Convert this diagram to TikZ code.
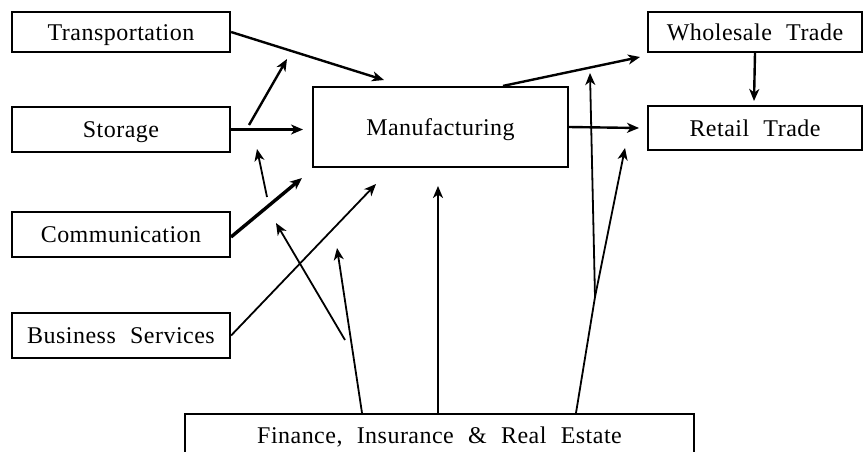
\documentclass[tikz,border=0pt]{standalone}
\usepackage{fontspec}
\setmainfont{Liberation Serif}[LetterSpace=2,WordSpace=2.2]
\usetikzlibrary{arrows.meta}

\tikzset{
	sector/.style={draw, line width=2.2pt, inner sep=0pt, text height=16pt, text depth=0pt,
		font=\fontsize{24}{26}\selectfont},
	flow/.style={-{Stealth[length=12pt,width=10pt,inset=3.5pt]}, line width=2.4pt},
	thinflow/.style={flow, line width=1.8pt},
}

\begin{document}
\begin{tikzpicture}[x=1pt,y=-1pt]
		\useasboundingbox (0,0) rectangle (866,451);
		%
		\node [sector, minimum width=218pt, minimum height=40pt] (trans) at (121,32) {Transportation};
		\node [sector, minimum width=218pt, minimum height=45pt] (stor) at (121,129.5) {Storage};
		\node [sector, minimum width=218pt, minimum height=45pt] (comm) at (121,234.5) {Communication};
		\node [sector, minimum width=218pt, minimum height=45pt] (bus) at (121,335.5) {Business Services};
		\node [sector, minimum width=255pt, minimum height=80pt] (manu) at (440.5,127) {Manufacturing};
		\node [sector, minimum width=214pt, minimum height=40pt] (whole) at (755,32) {Wholesale Trade};
		\node [sector, minimum width=214pt, minimum height=44pt] (retail) at (755,128) {Retail Trade};
		\node [sector, minimum width=509pt, minimum height=42pt] (fin) at (439.5,435) {Finance, Insurance \& Real Estate};
		%
		\coordinate (transTip) at (384,80);
		\coordinate (storTip) at (303,129.5);
		\coordinate (storFork) at (249,125);
		\coordinate (storUp) at (287,59);
		\coordinate (commFoot) at (267,197);
		\coordinate (commUp) at (257,149);
		\coordinate (commTip) at (302,178);
		\coordinate (busTip) at (376,184);
		\coordinate (finFoot) at (345,340);
		\coordinate (finTipA) at (276,223);
		\coordinate (finTipB) at (337,248);
		\coordinate (finTipC) at (438,186);
		\coordinate (finFork) at (595,297);
		\coordinate (finTipD) at (590,73);
		\coordinate (finTipE) at (625,148);
		\coordinate (wholeTip) at (640,57);
		\coordinate (retailTip) at (639,128);
		%
		\draw [flow] (trans.east) -- (transTip);
		\draw [flow] (stor.east) -- (storTip);
		\draw [flow] (storFork) -- (storUp);
		\draw [thinflow] (commFoot) -- (commUp);
		\draw [flow, line width=3.4pt] (231,237) -- (commTip);
		\draw [thinflow] (bus.east) -- (busTip);
		\draw [thinflow] (finFoot) -- (finTipA);
		\draw [thinflow] (362,0 |- fin.north) -- (finTipB);
		\draw [flow] (438,0 |- fin.north) -- (finTipC);
		\draw [thinflow] (576,0 |- fin.north) -- (finFork) -- (finTipD);
		\draw [thinflow] (finFork) -- (finTipE);
		\draw [flow] (manu.east) -- (retailTip);
		\draw [flow] (503,0 |- manu.north) -- (wholeTip);
		\draw [flow] (whole.south) -- (754,101);
	\end{tikzpicture}
\end{document}
